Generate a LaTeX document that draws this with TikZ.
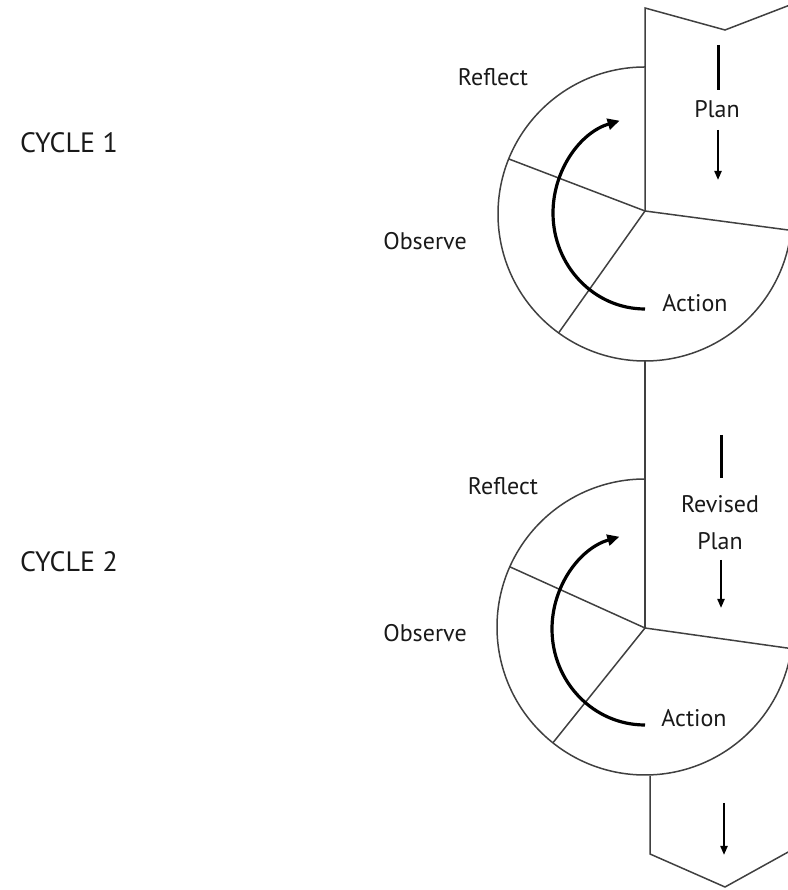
\documentclass[tikz,border=0pt]{standalone}
\usepackage{fontspec}
\setmainfont{PT Sans}
\usetikzlibrary{arrows.meta,calc}
\begin{document}
\begin{tikzpicture}[x=1pt,y=1pt,
  outline/.style={draw=black!75, line width=1.5pt, line join=miter},
  bigarrow/.style={draw=black, line width=3.2pt, -{Triangle[length=12pt,width=11pt]}},
  planbar/.style={draw=black, line width=3pt},
  planarrow/.style={draw=black, line width=2pt, -{Triangle[length=9pt,width=7pt]}},
  lbl/.style={font=\fontsize{24}{28}\selectfont, text=black!90, inner sep=0pt, anchor=base},
  cyc/.style={font=\fontsize{28}{30}\selectfont, text=black!90, inner sep=0pt, anchor=west}]
\useasboundingbox (0,0) rectangle (787,890);
% ---------- cycle 1 ----------
\coordinate (C1) at (645,676);
\coordinate (P1) at (645,679);
\coordinate (T1) at (645,882);
\coordinate (A1) at (725,860);
\coordinate (R1) at (790,885);
\draw[outline] (R1) -- (A1) -- (T1) -- (P1);
\draw[outline] ($(C1)+(90:147)$) arc[start angle=90,end angle=354,radius=147];
\draw[outline] (P1) -- ($(C1)+(158:147)$);
\draw[outline] (P1) -- ($(C1)+(234:147)$);
\draw[outline] (P1) -- ($(C1)+(-6.4:147)$);
\coordinate (S1) at (645,581);
\draw[bigarrow] (S1) arc[start angle=-90,end angle=-254,x radius=92,y radius=96];
\coordinate (pb1a) at (718,845); \coordinate (pb1b) at (718,800);
\coordinate (pa1a) at (718,760); \coordinate (pa1b) at (718,710);
\draw[planbar] (pb1a) -- (pb1b);
\draw[planarrow] (pa1a) -- (pa1b);
\node[lbl] (reflect1) at (493,804) {Reflect};
\node[lbl] (plan1) at (717,772) {Plan};
\node[lbl] (observe1) at (425,640) {Observe};
\node[lbl] (action1) at (695,578) {Action};
\node[cyc] (cycle1) at (20,747) {CYCLE 1};
% ---------- link ----------
\coordinate (B1) at (645,529);
\coordinate (P2) at (645,262);
\draw[outline] (B1) -- (P2);
% ---------- cycle 2 ----------
\coordinate (C2) at (645,263);
\draw[outline] ($(C2)+(90:148)$) arc[start angle=90,end angle=352,radius=148];
\draw[outline] (P2) -- ($(C2)+(156:148)$);
\draw[outline] (P2) -- ($(C2)+(231.5:148)$);
\draw[outline] (P2) -- ($(C2)+(-8.4:148)$);
\coordinate (S2) at (645,165);
\draw[bigarrow] (S2) arc[start angle=-90,end angle=-254,x radius=93,y radius=96];
\coordinate (pb2a) at (721,455); \coordinate (pb2b) at (721,412);
\coordinate (pa2a) at (721,330); \coordinate (pa2b) at (721,282);
\draw[planbar] (pb2a) -- (pb2b);
\draw[planarrow] (pa2a) -- (pa2b);
\node[lbl] (reflect2) at (503,395) {Reflect};
\node[lbl] (revised) at (720,377) {Revised};
\node[lbl] (plan2) at (720,340) {Plan};
\node[lbl] (observe2) at (425,248) {Observe};
\node[lbl] (action2) at (694,163) {Action};
\node[cyc] (cycle2) at (20,328) {CYCLE 2};
% ---------- bottom ----------
\coordinate (B2) at (650,114);
\coordinate (L3) at (650,36);
\coordinate (A3) at (725,3);
\coordinate (R3) at (790,39);
\draw[outline] (B2) -- (L3) -- (A3) -- (R3);
\coordinate (ba) at (724,87); \coordinate (bb) at (724,35);
\draw[planarrow] (ba) -- (bb);
\end{tikzpicture}
\end{document}
